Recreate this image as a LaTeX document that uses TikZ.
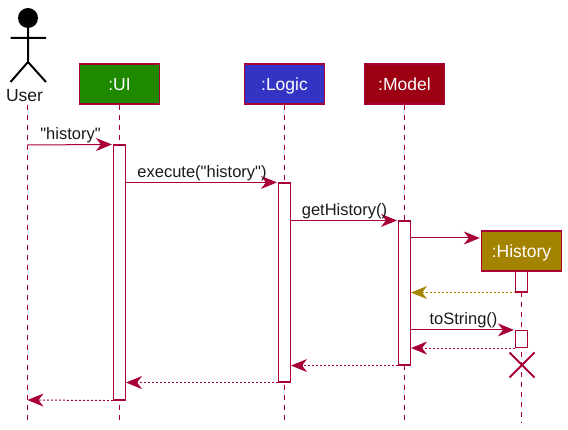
\documentclass[tikz,border=0pt]{standalone}
\usepackage{fontspec}
\setmainfont{Liberation Sans}[Ligatures=TeXOff]
\usetikzlibrary{arrows.meta}
\definecolor{seqline}{HTML}{A80036}
\definecolor{uigreen}{HTML}{1F8A00}
\definecolor{logicblue}{HTML}{3333C4}
\definecolor{modelred}{HTML}{9D0012}
\definecolor{historygold}{HTML}{A38300}
\definecolor{labelgray}{HTML}{1A1A1A}

\begin{document}
\begin{tikzpicture}[
    x=1pt, y=-1pt,
    box/.style={draw=seqline, line width=1.4pt, minimum width=80pt, minimum height=40pt, inner sep=0pt, text=white, font=\fontsize{17.5}{20}\selectfont},
    act/.style={draw=seqline, fill=white, line width=1.1pt, minimum width=12pt, inner sep=0pt},
    life/.style={draw=seqline, line width=1pt, dash pattern=on 5pt off 5pt},
    msg/.style={draw=seqline, line width=1pt, shorten >=1pt, -{Stealth[length=16pt,width=13pt,inset=5pt]}},
    ret/.style={msg, shorten >=0pt, dash pattern=on 2pt off 2pt},
    lbl/.style={text=labelgray, inner sep=0pt, font=\fontsize{16.5}{19}\selectfont},
    stick/.style={line width=2pt, black}
]
\useasboundingbox (0,0) rectangle (568,430);

% actor
\fill[black] (28,18) circle (10);
\coordinate (neck) at (28,28);
\coordinate (hip) at (28,62);
\coordinate (armL) at (10.5,38);
\coordinate (armR) at (46,38);
\coordinate (legL) at (10.5,82);
\coordinate (legR) at (46,82);
\draw[stick] (neck) -- (hip) (armL) -- (armR) (legL) -- (hip) -- (legR);
\node[lbl, font=\fontsize{17.5}{20}\selectfont] (user) at (24.5,95.5) {User};

% participants
\node[box, fill=uigreen, text depth=0pt] (ui) at (119.5,84) {:UI};
\node[box, fill=logicblue, text depth=0pt] (logic) at (284.5,84) {:Logic};
\node[box, fill=modelred, text depth=0pt] (model) at (404.5,84) {:Model};
\node[box, fill=historygold, text depth=0pt] (history) at (521.5,251) {:History};

% lifelines
\coordinate (userTop) at (27.5,105);
\coordinate (userEnd) at (27.5,423);
\coordinate (uiEnd) at (119.5,423);
\coordinate (logicEnd) at (284.5,423);
\coordinate (modelEnd) at (404.5,423);
\coordinate (historyEnd) at (521.5,423);
\draw[life] (userTop) -- (userEnd);
\draw[life] (ui.south) -- (uiEnd);
\draw[life] (logic.south) -- (logicEnd);
\draw[life] (model.south) -- (modelEnd);
\draw[life] (history.south) -- (historyEnd);

% activations
\node[act, minimum height=255pt] (uiAct) at (119.5,272.5) {};
\node[act, minimum height=199pt] (logicAct) at (284.5,282.5) {};
\node[act, minimum height=144pt] (modelAct) at (404.5,293) {};
\node[act, minimum height=21pt] (historyAct) at (521.5,281.5) {};
\node[act, minimum height=17pt] (stringAct) at (521.5,339) {};

% messages
\coordinate (userCall) at (27.5,145);
\coordinate (userBack) at (27.5,400);
\draw[msg] (userCall) -- (uiAct.north west);
\node[lbl] (historyLbl) at (70.5,135.5) {"history"};
\draw[msg] (uiAct.east |- logicAct.north) -- (logicAct.north west);
\node[lbl] (executeLbl) at (202,173.5) {execute("history")};
\draw[msg] (logicAct.east |- modelAct.north) -- (modelAct.north west);
\node[lbl] (getLbl) at (344.5,211.5) {getHistory()};
\draw[msg] (modelAct.east |- history.west) ++(0,-13) coordinate (createFrom) (createFrom) -- (history.west |- createFrom);
\draw[ret, draw=historygold, {Stealth[length=16pt,width=13pt,inset=5pt,historygold]}-] (modelAct.east |- historyAct.south) -- (historyAct.south west);
\draw[msg] (modelAct.east |- stringAct.north) -- (stringAct.north west);
\node[lbl] (toStringLbl) at (463.5,320.5) {toString()};
\draw[ret] (stringAct.south west) -- (modelAct.east |- stringAct.south);
\draw[ret] (modelAct.south west) -- (logicAct.east |- modelAct.south);
\draw[ret] (logicAct.south west) -- (uiAct.east |- logicAct.south);
\draw[ret] (uiAct.south west) -- (userBack);

% destroy mark
\coordinate (crossA) at (509.5,352.5);
\coordinate (crossB) at (534.5,377.5);
\coordinate (crossC) at (509.5,377.5);
\coordinate (crossD) at (534.5,352.5);
\draw[draw=seqline, line width=2pt] (crossA) -- (crossB) (crossC) -- (crossD);
\end{tikzpicture}
\end{document}
